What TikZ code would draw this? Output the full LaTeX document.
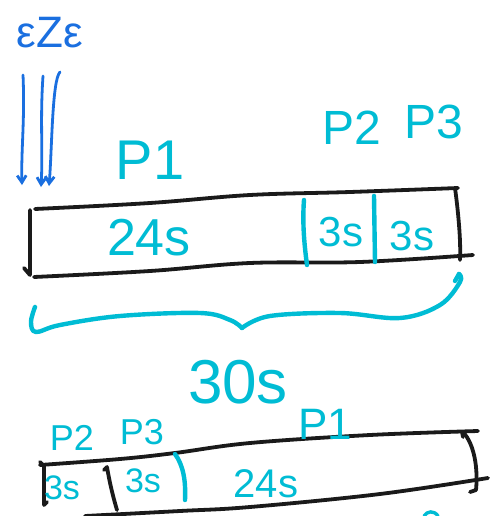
\documentclass[tikz,border=0pt]{standalone}
\usepackage{fontspec}
\setmainfont{Liberation Sans}
\usetikzlibrary{arrows.meta}
\definecolor{ink}{HTML}{1A1A1A}
\definecolor{cy}{HTML}{00BCD4}
\definecolor{bl}{HTML}{1A6FE0}
\tikzset{
  blk/.style={draw=ink,line width=3.8pt,line cap=round,line join=round},
  cyl/.style={draw=cy,line width=4.4pt,line cap=round,line join=round},
  bll/.style={draw=bl,line width=2.8pt,line cap=round,line join=round,-{Straight Barb[length=7pt,width=9pt]}},
  lab/.style={text=cy,inner sep=0pt,anchor=center},
}
\newcommand{\fs}[1]{\fontsize{#1}{#1}\selectfont}
\begin{document}
\begin{tikzpicture}[x=1pt,y=-1pt]
\useasboundingbox[fill=white] (0,0) rectangle (497,516);
% top-left label and arrows
\node[text=bl,inner sep=0pt,font=\fs{44}] (eze) at (50,33) {εZε};
\coordinate (a1s) at (23,75); \coordinate (a1e) at (22,185);
\coordinate (a2s) at (43,76); \coordinate (a2e) at (41,187);
\coordinate (a3s) at (60,72); \coordinate (a3e) at (49,186);
\draw[bll] (a1s) .. controls (25,120) and (21,150) .. (a1e);
\draw[bll] (a2s) .. controls (40,120) and (43,150) .. (a2e);
\draw[bll] (a3s) .. controls (52,80) and (52,150) .. (a3e);
% top box
\draw[blk] plot[smooth,tension=0.6] coordinates {(35,209) (150,203) (250,195) (350,192) (458,188)};
\draw[blk] plot[smooth,tension=0.6] coordinates {(34,277) (150,271) (250,263) (360,262) (473,255)};
\draw[blk] (30,210) -- (30,275) -- (24,268);
\draw[blk] (455,188) .. controls (458,210) and (461,240) .. (460,260);
% dividers
\draw[cyl] (304,200) .. controls (302,225) and (305,250) .. (307,265);
\draw[cyl] (374,196) -- (375,262);
% top labels
\node[lab,font=\fs{52}] (t24) at (149,238) {24s};
\node[lab,font=\fs{42}] (t3a) at (341,232) {3s};
\node[lab,font=\fs{42}] (t3b) at (412,236) {3s};
\node[lab,font=\fs{56}] (p1) at (150,160) {P1};
\node[lab,font=\fs{48}] (p2) at (352,128) {P2};
\node[lab,font=\fs{48}] (p3) at (434,122) {P3};
% brace
\draw[cyl] plot[smooth,tension=0.6] coordinates {(35,307) (31,322) (36,332) (60,325) (120,316) (200,313) (230,320) (242,328)};
\draw[cyl] plot[smooth,tension=0.6] coordinates {(242,328) (270,316) (340,313) (400,318) (440,305) (460,282) (459,274)};
\draw[cyl] (459,274) -- (455,281);
\node[lab,font=\fs{62}] (t30) at (238,382) {30s};
% bottom box
\draw[blk] plot[smooth,tension=0.6] coordinates {(40,465) (120,459) (175,453) (250,443) (370,435) (478,431)};
\draw[blk] plot[smooth,tension=0.6] coordinates {(85,516) (180,511) (250,507) (380,494) (488,478)};
\draw[blk] (40,462) -- (44,466) -- (44,505) -- (47,502);
\draw[blk] (463,432) .. controls (475,445) and (478,470) .. (476,490) -- (470,492);
\draw[blk] (462,432) -- (463,437);
\draw[blk] (104,470) -- (107,467) .. controls (110,485) and (114,500) .. (117,510);
\draw[cyl] (175,454) .. controls (183,465) and (186,480) .. (185,500);
% bottom labels
\node[lab,font=\fs{34}] (b3a) at (62,488) {3s};
\node[lab,font=\fs{34}] (b3b) at (143,481) {3s};
\node[lab,font=\fs{40}] (b24) at (266,484) {24s};
\node[lab,font=\fs{36}] (bp2) at (72,438) {P2};
\node[lab,font=\fs{36}] (bp3) at (142,432) {P3};
\node[lab,font=\fs{44}] (bp1) at (325,424) {P1};
% cut-off mark at bottom
\draw[cyl,line width=3.4pt] (424,516) .. controls (427,511) and (434,510) .. (438,516);
\end{tikzpicture}
\end{document}
